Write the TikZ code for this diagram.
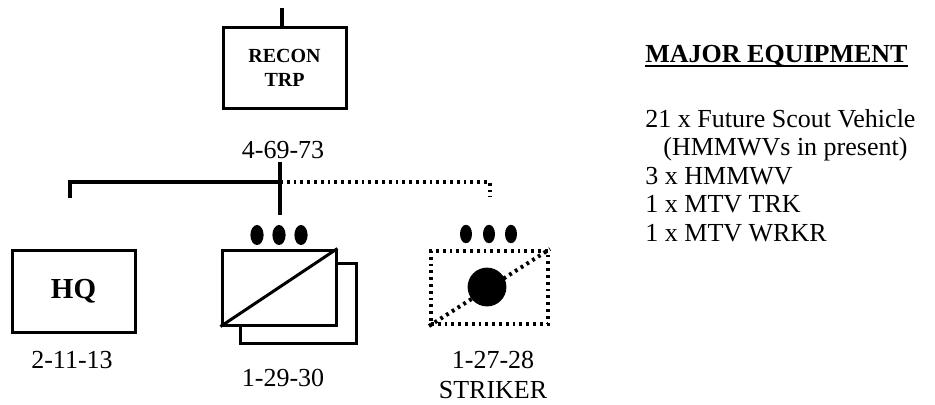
\documentclass[tikz,border=0pt]{standalone}
\usepackage{fontspec}
\setmainfont{Liberation Serif}
\usetikzlibrary{calc}

\begin{document}
\begin{tikzpicture}[x=.5pt,y=-.5pt,font=\fontsize{13}{15}\selectfont,
  unit/.style={draw,line width=1.5pt,fill=white,inner sep=0pt},
  dots/.style={line width=2pt,dash pattern=on 1.4pt off 2pt},
  link/.style={line width=1.8pt}]
 \useasboundingbox (0,0) rectangle (935,404);
 % troop and its number
 \node[unit,minimum width=61.5pt,minimum height=40.5pt,align=center,
   font=\fontsize{10}{12}\selectfont\bfseries] (recon) at (284.5,67.5) {RECON\\TRP};
 \coordinate (top) at (282,8);
 \draw[link] (top) -- (top |- recon.north);
 \node (trpno) at (283,150) {4-69-73};
 \coordinate (j) at (280,182);
 \coordinate (jup) at (280,162);
 \coordinate (jdn) at (280,215);
 \coordinate (hqup) at (70,198);
 \coordinate (stup) at (490,197);
 \draw[link] (hqup) |- (j);
 \draw[link] (jup) -- (jdn);
 \draw[dots] (j) -| (stup);
 % HQ
 \node[unit,minimum width=61.5pt,minimum height=41pt,
   font=\fontsize{14.5}{16}\selectfont\bfseries] (hq) at (73.5,291) {HQ};
 \node (hqno) at (72,360) {2-11-13};
 % platoons
 \node[unit,minimum width=58pt,minimum height=40pt] (plt2) at (298,303) {};
 \node[unit,minimum width=57pt,minimum height=37.5pt] (plt1) at (279,287.5) {};
 \draw[line width=1.5pt] (plt1.south west) -- (plt1.north east);
 \foreach \x in {257,279,301}{\fill (\x,235) ellipse [x radius=3.3pt,y radius=5pt];}
 \node (pltno) at (283,378) {1-29-30};
 % striker
 \node[draw,dots,minimum width=58.5pt,minimum height=36.5pt,inner sep=0pt] (str) at (489.5,287.5) {};
 \draw[dots] (str.south west) -- (str.north east);
 \fill (487,287) circle [radius=9.7pt];
 \foreach \x in {466,489,511}{\fill (\x,234) ellipse [x radius=3pt,y radius=4.6pt];}
 \node[align=center,font=\fontsize{13}{15}\selectfont] (strno) at (493,375) {1-27-28\\STRIKER};
 % equipment list
 \node[anchor=base west,inner sep=0pt,font=\fontsize{13}{15}\selectfont\bfseries] (eqhead) at (645,62) {MAJOR EQUIPMENT};
 \draw[line width=1pt] ($(eqhead.base west)+(0,4)$) -- ($(eqhead.base east)+(0,4)$);
 \node[anchor=north west,align=left,inner sep=0pt,font=\fontsize{13}{14.25}\selectfont] (eqlist) at (645,109)
   {21 x Future Scout Vehicle\\\hspace*{9pt}(HMMWVs in present)\\3 x HMMWV\\1 x MTV TRK\\1 x MTV WRKR};
\end{tikzpicture}
\end{document}
